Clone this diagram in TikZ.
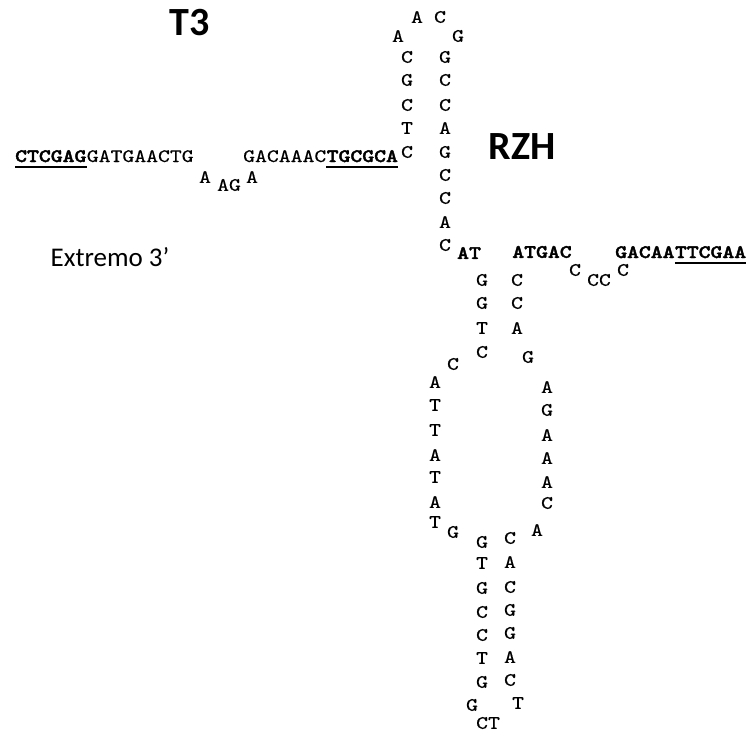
\documentclass[tikz,border=0pt]{standalone}
\usepackage{fontspec}
\setmainfont{Carlito}
\setmonofont[FakeStretch=1.19, FakeBold=0.4, BoldFont=lmmonolt10-bold.otf, BoldFeatures={FakeBold=2}]{lmmono10-regular.otf}
\usetikzlibrary{positioning}

\tikzset{
  nuc/.style={font=\ttfamily\fontsize{19}{20}\selectfont, inner sep=0pt},
  nucb/.style={nuc, font=\ttfamily\bfseries\fontsize{19}{20}\selectfont},
  sito/.style={line width=1.3pt},
  etichetta/.style={inner sep=0pt, font=\bfseries\fontsize{40}{40}\selectfont}
}

\begin{document}
\begin{tikzpicture}[x=1pt,y=-1pt]
        \useasboundingbox (0,0) rectangle (750,736);
        %etichette
        \node[etichetta] (t3) at (190,23) {T3};
        \node[etichetta] (rzh) at (522,147) {RZH};
        \node[inner sep=0pt, font=\fontsize{27}{27}\selectfont] (estremo) at (110,257) {Extremo 3’};

        %braccio sinistro
        \node[nucb, anchor=base west] (xho) at (15,162) {CTCGAG};
        \node[nuc, right=0pt of xho.base east, anchor=base west] (sx1) {GATGAACTG};
        \node[nuc] (la1) at (205,177) {A};
        \node[nuc] (la2) at (229,185) {AG};
        \node[nuc] (la3) at (252,177) {A};
        \node[nuc, anchor=base west] (sx2) at (243,162) {GACAAAC};
        \node[nucb, right=0pt of sx2.base east, anchor=base west] (fsp) {TGCGCA};
        \draw[sito] ([yshift=-5pt]xho.base west)--([yshift=-5pt]xho.base east);
        \draw[sito] ([yshift=-5pt]fsp.base west)--([yshift=-5pt]fsp.base east);

        %forcina in alto
        \node[nuc] (h1) at (398,36) {A};
        \node[nuc] (h2) at (417,17) {A};
        \node[nuc] (h3) at (440,17) {C};
        \node[nuc] (h4) at (458,36) {G};
        \foreach \b/\y [count=\i] in {C/57,G/80,C/105,T/128,C/152}
            \node[nuc] (ua\i) at (407,\y) {\b};
        \foreach \b/\y [count=\i] in {G/57,C/80,C/105,A/128,G/152,C/175,C/198,A/222,C/245}
            \node[nuc] (ub\i) at (445,\y) {\b};

        %braccio destro
        \node[nucb] (at) at (469,253) {AT};
        \node[nucb] (dx1) at (542,252) {ATGAC};
        \node[nuc] (ra1) at (575,270) {C};
        \node[nuc] (ra2) at (599,280) {CC};
        \node[nuc] (ra3) at (623,270) {C};
        \node[nucb, anchor=base west] (dx2) at (615,258) {GACAA};
        \node[nucb, right=0pt of dx2.base east, anchor=base west] (bst) {TTCGAA};
        \draw[sito] ([yshift=-5pt]bst.base west)--([yshift=-5pt]bst.base east);

        %stelo centrale
        \foreach \b/\y [count=\i] in {G/280,G/303,T/328,C/352}
            \node[nuc] (ma\i) at (482,\y) {\b};
        \foreach \b/\y [count=\i] in {C/280,C/303,A/328}
            \node[nuc] (mb\i) at (517,\y) {\b};
        \node[nuc] (mg) at (528,357) {G};

        %ansa interna
        \node[nuc] (ic) at (453,364) {C};
        \foreach \b/\y [count=\i] in {A/382,T/405,T/430,A/455,T/477,A/502,T/522}
            \node[nuc] (ia\i) at (435,\y) {\b};
        \node[nuc] (ig) at (453,532) {G};
        \foreach \b/\y [count=\i] in {A/387,G/410,A/435,A/458,A/482,C/503}
            \node[nuc] (ib\i) at (547,\y) {\b};
        \node[nuc] (ia) at (537,530) {A};

        %stelo in basso
        \foreach \b/\y [count=\i] in {G/542,T/563,G/588,C/612,C/635,T/658,G/682}
            \node[nuc] (ba\i) at (482,\y) {\b};
        \foreach \b/\y [count=\i] in {C/538,A/562,C/587,G/610,G/633,A/657,C/680}
            \node[nuc] (bb\i) at (510,\y) {\b};
        \node[nuc] (bg) at (472,705) {G};
        \node[nuc] (bt) at (518,703) {T};
        \node[nuc] (bct) at (488,723) {CT};
    \end{tikzpicture}
\end{document}
